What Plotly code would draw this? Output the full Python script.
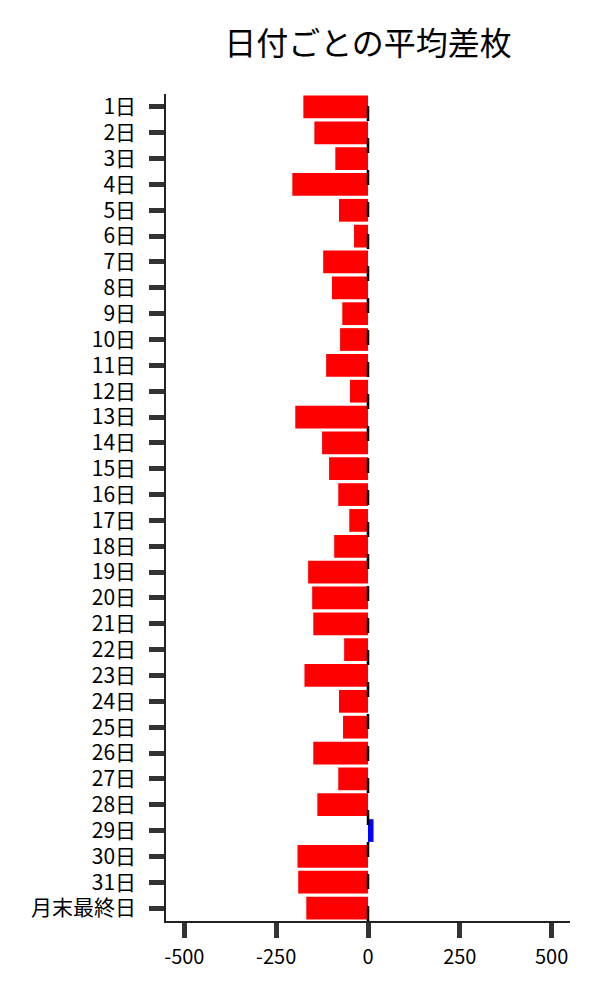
import plotly.graph_objects as go

# 日付ごとの平均差枚
days = [f"{i}日" for i in range(1, 32)] + ["月末最終日"]
avg_diff = [
    -176, -146, -89, -206, -79, -38, -122, -98, -70, -76,
    -114, -49, -198, -125, -106, -81, -51, -92, -163, -152,
    -149, -65, -173, -79, -68, -149, -81, -138, 15, -192,
    -190, -168,
]
colors = ["blue" if v > 0 else "red" for v in avg_diff]

font_family = "Noto Sans CJK JP"

fig = go.Figure()
fig.add_trace(
    go.Bar(
        x=avg_diff,
        y=days,
        orientation="h",
        marker=dict(color=colors, line=dict(width=0)),
        showlegend=False,
    )
)

# zero line
fig.add_vline(x=0, line_dash="15px,17px", line_color="black", line_width=2.5)

fig.update_layout(
    title=dict(
        text="日付ごとの平均差枚",
        x=0.6,
        xanchor="center",
        y=0.964,
        yanchor="middle",
        font=dict(family=font_family, size=32, color="black"),
    ),
    width=600,
    height=1000,
    margin=dict(l=158, r=38, t=86, b=87),
    plot_bgcolor="white",
    paper_bgcolor="white",
    bargap=0.12,
    font=dict(family=font_family, size=20, color="black"),
)

fig.update_xaxes(
    range=[-550, 550],
    tickvals=[-500, -250, 0, 250, 500],
    ticktext=["-500", "-250", "0", "250", "500"],
    showgrid=False,
    zeroline=False,
    showline=True,
    linecolor="#222",
    linewidth=1.5,
    ticks="outside",
    ticklen=15,
    tickwidth=5,
    tickcolor="#333",
    ticklabelstandoff=2,
    tickfont=dict(family=font_family, size=20, color="black"),
)
fig.update_yaxes(
    categoryorder="array",
    categoryarray=days,
    autorange="reversed",
    range=[31.5, -0.5],
    showgrid=False,
    zeroline=False,
    showline=True,
    linecolor="#222",
    linewidth=1.5,
    ticks="outside",
    ticklen=15,
    tickwidth=5,
    tickcolor="#333",
    ticklabelstandoff=9,
    tickfont=dict(family=font_family, size=21, color="black"),
)

fig.write_html("out.html")
